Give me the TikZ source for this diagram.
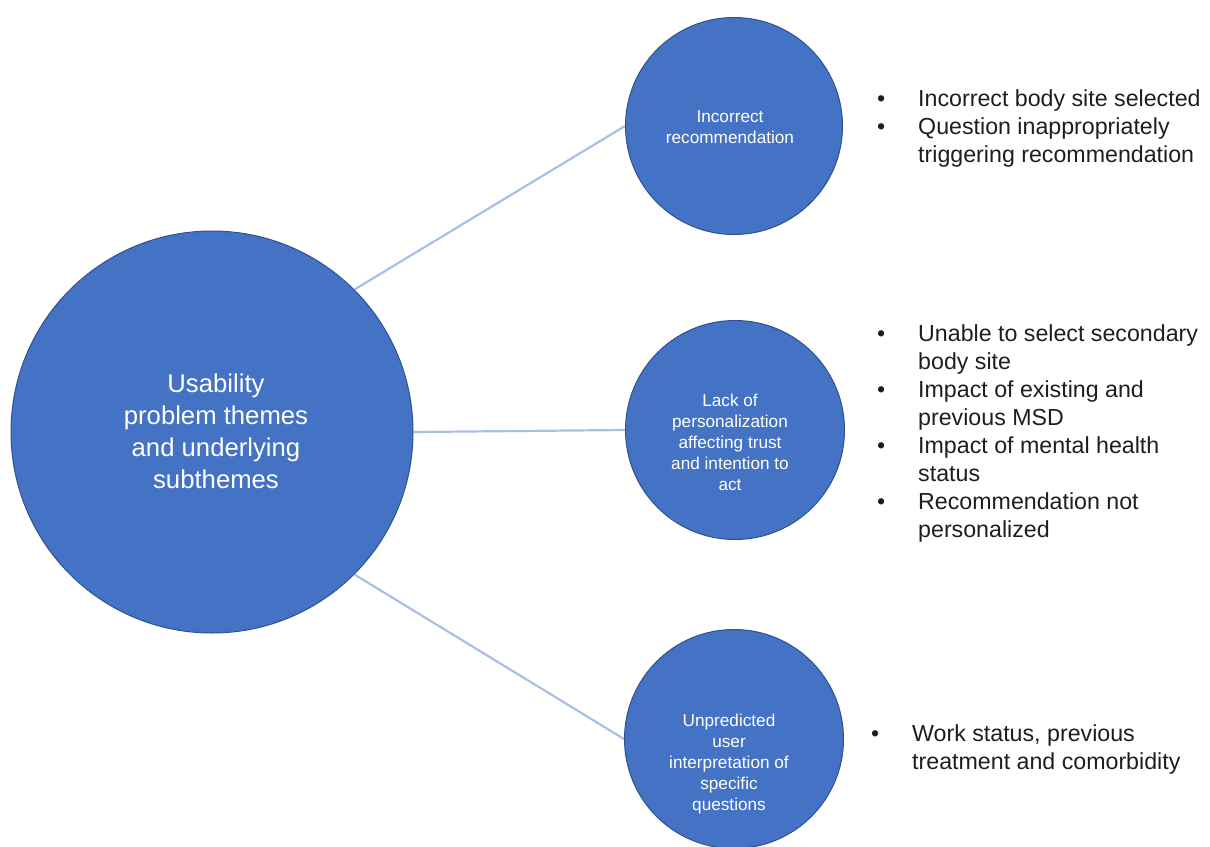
\documentclass[tikz,border=0pt]{standalone}
\usepackage{fontspec}
\setmainfont{Liberation Sans}
\usetikzlibrary{backgrounds}
\definecolor{cfill}{HTML}{4472C4}
\definecolor{cedge}{HTML}{2F528F}
\definecolor{clink}{HTML}{A9BFE6}
\definecolor{ctext}{HTML}{1E1E1E}
\begin{document}
\begin{tikzpicture}[x=1pt,y=-1pt,
  theme/.style={circle, fill=cfill, draw=cedge, line width=1pt, inner sep=0pt},
  themetext/.style={text=white, align=center, inner sep=0pt},
  link/.style={draw=clink, line width=2.2pt},
  list/.style={anchor=west, inner sep=0pt, text=ctext, font=\fontsize{23.2}{28}\selectfont}]
\useasboundingbox (0,0) rectangle (1210,846);
\node[theme, minimum size=402pt] (main) at (212,432) {};
\node[theme, minimum size=217pt] (t1) at (734,126) {};
\node[theme, minimum size=219pt] (t2) at (735,430) {};
\node[theme, minimum size=219pt] (t3) at (734,739) {};
\begin{pgfonlayer}{background}
\draw[link] (main.45) -- (t1.west);
\draw[link] (main.east) -- (t2.west);
\draw[link] (main.-45) -- (t3.west);
\end{pgfonlayer}
% circle texts
\node[themetext, font=\fontsize{25.7}{32}\selectfont] (mainlbl) at (216,431)
  {Usability\\problem themes\\and underlying\\subthemes};
\node[themetext, font=\fontsize{17.2}{21}\selectfont] (t1lbl) at (730,127)
  {Incorrect\\recommendation};
\node[themetext, font=\fontsize{17.2}{21}\selectfont] (t2lbl) at (730,442)
  {Lack of\\personalization\\affecting trust\\and intention to\\act};
\node[themetext, font=\fontsize{17.2}{21}\selectfont] (t3lbl) at (729,764)
  {Unpredicted\\user\\interpretation of\\specific\\questions};
% bullet lists
\node[list] (l1) at (877,129) {%
  \begin{tabular}{@{}p{41pt}@{}l@{}}
  \textbullet & Incorrect body site selected\\
  \textbullet & Question inappropriately\\
   & triggering recommendation
  \end{tabular}};
\node[list] (l2) at (877,434) {%
  \begin{tabular}{@{}p{41pt}@{}l@{}}
  \textbullet & Unable to select secondary\\
   & body site\\
  \textbullet & Impact of existing and\\
   & previous MSD\\
  \textbullet & Impact of mental health\\
   & status\\
  \textbullet & Recommendation not\\
   & personalized
  \end{tabular}};
\node[list] (l3) at (871,750) {%
  \begin{tabular}{@{}p{41pt}@{}l@{}}
  \textbullet & Work status, previous\\
   & treatment and comorbidity
  \end{tabular}};
\end{tikzpicture}
\end{document}
